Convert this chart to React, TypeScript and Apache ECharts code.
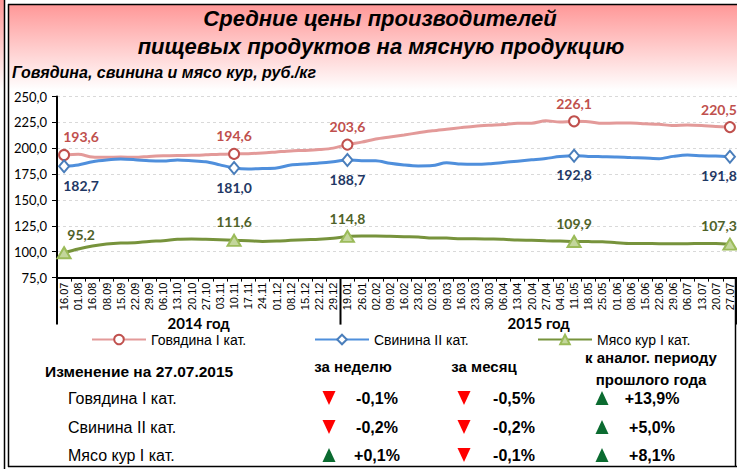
import React, { useEffect, useRef } from "react";
import * as echarts from "echarts";

const categories = [
  "16.07", "01.08", "16.08", "08.09", "15.09", "22.09", "29.09", "06.10", "13.10", "20.10",
  "27.10", "03.11", "10.11", "17.11", "24.11", "01.12", "08.12", "15.12", "22.12", "29.12",
  "19.01", "26.01", "02.02", "09.02", "16.02", "23.02", "02.03", "09.03", "16.03", "23.03",
  "30.03", "06.04", "13.04", "20.04", "27.04", "04.05", "11.05", "18.05", "25.05", "01.06",
  "08.06", "15.06", "22.06", "29.06", "06.07", "13.07", "20.07", "27.07",
];

const beef = [
  193.6, 194.2, 191.6, 191.3, 191.5, 191.3, 192.2, 192.8, 193.1, 193.2, 193.7, 194.3,
  194.6, 194.8, 195.5, 196.5, 197.5, 198.0, 198.8, 200.2, 203.6, 206.0, 209.0, 211.0,
  212.9, 215.0, 217.0, 218.5, 220.0, 221.4, 222.3, 223.0, 224.3, 224.3, 226.6, 225.5,
  226.1, 225.8, 224.2, 224.5, 224.5, 223.8, 223.2, 222.0, 222.5, 222.0, 221.0, 220.5,
];
const pork = [
  182.7, 183.9, 187.0, 188.7, 189.6, 189.0, 188.0, 187.7, 188.7, 188.0, 187.0, 184.0,
  181.0, 180.0, 180.5, 181.0, 183.9, 184.8, 185.7, 187.0, 188.7, 188.0, 188.0, 185.5,
  183.9, 183.0, 183.3, 186.0, 184.8, 184.5, 185.0, 186.3, 187.6, 188.9, 190.2, 192.0,
  192.8, 192.2, 191.9, 191.6, 191.0, 190.6, 190.0, 192.2, 193.5, 192.8, 192.5, 191.8,
];
const chicken = [
  99.0, 102.6, 105.5, 107.4, 108.4, 108.7, 110.0, 110.6, 112.0, 112.3, 112.0, 111.6,
  111.0, 110.6, 110.0, 110.3, 111.0, 111.6, 112.0, 113.0, 114.8, 115.2, 115.2, 114.9,
  114.5, 114.2, 113.2, 113.2, 112.6, 112.6, 112.3, 112.0, 111.3, 111.0, 110.6, 110.3,
  109.9, 109.8, 109.6, 108.7, 108.0, 108.0, 107.7, 107.7, 107.7, 108.0, 108.0, 107.3,
];

const markerIdx = [0, 12, 20, 36, 47];
const beefMarkLabels = ["193,6", "194,6", "203,6", "226,1", "220,5"];
const porkMarkLabels = ["182,7", "181,0", "188,7", "192,8", "191,8"];
const chickenMarkLabels = ["95,2", "111,6", "114,8", "109,9", "107,3"];

const yearGroups = [
  { label: "2014 год", from: 0, to: 19 },
  { label: "2015 год", from: 20, to: 47 },
];

const seriesNames = ["Говядина I кат.", "Свинина II кат.", "Мясо кур I кат."];
const tableTitle = "Изменение на 27.07.2015";
const colHeaders = ["за неделю", "за месяц", "к аналог. периоду", "прошлого года"];
const weekChange = [-0.1, -0.2, 0.1];
const monthChange = [-0.5, -0.2, -0.1];
const yearChange = [13.9, 5.0, 8.1];

const AR = "'Liberation Sans', Arial, sans-serif";
const CAL = "Lato, 'Liberation Sans', sans-serif";

function fmtPct(v: number) {
  return (v > 0 ? "+" : "") + v.toFixed(1).replace(".", ",") + "%";
}

function buildData(vals: number[], labels: string[]) {
  return vals.map((v, i) => {
    const k = markerIdx.indexOf(i);
    if (k < 0) return { value: v, symbol: "none" };
    return {
      value: v,
      label: {
        show: true,
        formatter: labels[k],
        offset: i === 0 ? [17, 0] : i === vals.length - 1 ? [-11, 0] : [0, 0],
      },
    };
  });
}

export default function App() {
  const ref = useRef<HTMLDivElement>(null);
  useEffect(() => {
    const chart = echarts.init(ref.current!, null, { renderer: "svg" });
    const labelBase = { show: false, fontSize: 14, fontWeight: "bold", fontFamily: CAL, distance: 5 };
    chart.setOption({
      animation: false,
      backgroundColor: "#ffffff",
      grid: { left: 57, top: 96.6, width: 681, height: 181 },
      legend: {
        left: 86,
        top: 327,
        itemWidth: 54,
        itemHeight: 12,
        itemGap: 62,
        selectedMode: false,
        textStyle: { fontSize: 14, fontFamily: AR, color: "#000", width: 101, lineHeight: 15 },
        data: seriesNames,
      },
      xAxis: {
        type: "category",
        data: categories,
        boundaryGap: true,
        axisLine: { show: true, lineStyle: { color: "#000", width: 2 } },
        axisTick: { show: true, interval: 0, length: 4, lineStyle: { color: "#000" } },
        axisLabel: { interval: 0, rotate: 90, fontSize: 11, fontFamily: AR, color: "#000", margin: 5 },
      },
      yAxis: {
        type: "value",
        min: 75,
        max: 250,
        interval: 25,
        axisLine: { show: true, lineStyle: { color: "#000", width: 2 } },
        axisTick: { show: true, length: 5, lineStyle: { color: "#000" } },
        axisLabel: {
          fontSize: 13,
          fontFamily: CAL,
          color: "#000",
          margin: 10,
          formatter: (v: number) => v.toFixed(1).replace(".", ","),
        },
        splitLine: { show: true, lineStyle: { color: "#D9D9D9", type: [3, 3] } },
      },
      series: [
        {
          name: seriesNames[0],
          type: "line",
          data: buildData(beef, beefMarkLabels),
          smooth: 0.3,
          symbol: "circle",
          symbolSize: 10,
          lineStyle: { color: "#E39A99", width: 3 },
          itemStyle: { color: "#ffffff", borderColor: "#C0504D", borderWidth: 2 },
          label: { ...labelBase, position: "top", color: "#C0504D" },
          emphasis: { disabled: true },
          z: 3,
        },
        {
          name: seriesNames[1],
          type: "line",
          data: buildData(pork, porkMarkLabels),
          smooth: 0.3,
          symbol: "diamond",
          symbolSize: [10, 12],
          lineStyle: { color: "#4F8FDC", width: 3 },
          itemStyle: { color: "#ffffff", borderColor: "#4A7EBB", borderWidth: 2 },
          label: { ...labelBase, position: "bottom", color: "#1F3864" },
          emphasis: { disabled: true },
          z: 3,
        },
        {
          name: seriesNames[2],
          type: "line",
          data: buildData(chicken, chickenMarkLabels),
          smooth: 0.3,
          symbol: "triangle",
          symbolSize: [13, 11],
          lineStyle: { color: "#77933C", width: 3 },
          itemStyle: { color: "#C3D69B", borderColor: "#9BBB59", borderWidth: 2 },
          label: { ...labelBase, position: "top", color: "#4F6228" },
          emphasis: { disabled: true },
          z: 3,
        },
      ],
    });

    const px = (i: number) => chart.convertToPixel({ xAxisIndex: 0 }, i) as number;
    const band = px(1) - px(0);
    const axisY = chart.convertToPixel({ yAxisIndex: 0 }, 75) as number;

    const g: any[] = [];
    g.push({
      type: "rect",
      z: -10,
      silent: true,
      shape: { x: 0, y: 0, width: 737, height: 100 },
      style: {
        fill: {
          type: "linear", x: 0, y: 0, x2: 0, y2: 1,
          colorStops: [
            { offset: 0.04, color: "#FF9797" },
            { offset: 0.9, color: "#FFFFFF" },
          ],
        },
      },
    });
    g.push({ type: "rect", z: -9, silent: true, shape: { x: 5, y: 0, width: 3, height: 469 }, style: { fill: "#fff" } });
    g.push({ type: "rect", z: -9, silent: true, shape: { x: 0, y: 0, width: 737, height: 4 }, style: { fill: "#fff" } });
    g.push({ type: "rect", z: -9, silent: true, shape: { x: 0, y: 0, width: 4, height: 100 }, style: {
      fill: { type: "linear", x: 0, y: 0, x2: 0, y2: 1, colorStops: [{ offset: 0, color: "#FF9797" }, { offset: 0.9, color: "#FFFFFF" }] },
    } });
    const line = (x1: number, y1: number, x2: number, y2: number, w = 1.5) => ({
      type: "line", silent: true, z: 10,
      shape: { x1, y1, x2, y2 },
      style: { stroke: "#000", lineWidth: w },
    });
    g.push(line(4.5, 0, 4.5, 469));
    g.push(line(8.5, 4, 8.5, 467));
    g.push(line(8, 4.5, 737, 4.5));
    g.push(line(8, 466.5, 737, 466.5));
    g.push(line(735.5, axisY, 735.5, 467));

    const titleFont = { fontFamily: AR, fontWeight: "bold", fontStyle: "italic", fill: "#000" };
    g.push({ type: "text", z: 5, style: { ...titleFont, text: "Средние цены производителей", x: 380, y: 18, fontSize: 22, align: "center", verticalAlign: "middle" } });
    g.push({ type: "text", z: 5, style: { ...titleFont, text: "пищевых продуктов на мясную продукцию", x: 381, y: 46, fontSize: 22, align: "center", verticalAlign: "middle" } });
    g.push({ type: "text", z: 5, style: { ...titleFont, text: "Говядина, свинина и мясо кур, руб./кг", x: 12, y: 72, fontSize: 16, align: "left", verticalAlign: "middle" } });

    const seps = new Set<number>();
    yearGroups.forEach((yg) => {
      const x0 = px(yg.from) - band / 2;
      const x1 = px(yg.to) + band / 2;
      seps.add(Math.round(x0 * 2) / 2);
      seps.add(Math.round(x1 * 2) / 2);
      g.push({
        type: "text", z: 5,
        style: { text: yg.label, x: (x0 + x1) / 2, y: axisY + 45, align: "center", verticalAlign: "middle", fontFamily: CAL, fontWeight: "bold", fontSize: 15, fill: "#000" },
      });
    });
    seps.forEach((x) => {
      const xx = Math.min(x, 736);
      g.push(line(xx, axisY, xx, axisY + 47, 2));
    });

    const hdr = { fontFamily: AR, fontWeight: "bold", fontSize: 15, fill: "#000", align: "center", verticalAlign: "middle" };
    g.push({ type: "text", z: 5, style: { text: tableTitle, x: 45, y: 371, verticalAlign: "middle", fontFamily: AR, fontWeight: "bold", fontSize: 15.5, fill: "#000" } });
    const colCenters = [353, 484, 651];
    g.push({ type: "text", z: 5, style: { ...hdr, text: colHeaders[0], x: colCenters[0], y: 366 } });
    g.push({ type: "text", z: 5, style: { ...hdr, text: colHeaders[1], x: colCenters[1], y: 366 } });
    g.push({ type: "text", z: 5, style: { ...hdr, text: colHeaders[2], x: colCenters[2], y: 357 } });
    g.push({ type: "text", z: 5, style: { ...hdr, text: colHeaders[3], x: colCenters[2], y: 379 } });
    const rowY = [398, 427, 455];
    const triX = [329, 464, 602];
    const valX = [377, 514, 652];
    const cols = [weekChange, monthChange, yearChange];
    seriesNames.forEach((name, r) => {
      g.push({ type: "text", z: 5, style: { text: name, x: 68, y: rowY[r], verticalAlign: "middle", fontFamily: AR, fontSize: 16, fill: "#000" } });
      cols.forEach((col, c) => {
        const v = col[r];
        const cx = triX[c];
        const cy = rowY[r];
        const pts = v < 0
          ? [[cx - 6.5, cy - 7], [cx + 6.5, cy - 7], [cx, cy + 7]]
          : [[cx - 6.5, cy + 7], [cx + 6.5, cy + 7], [cx, cy - 7]];
        g.push({ type: "polygon", z: 5, shape: { points: pts }, style: { fill: v < 0 ? "#FF0000" : "#0B6B30" } });
        g.push({ type: "text", z: 5, style: { text: fmtPct(v), x: valX[c], y: cy, align: "center", verticalAlign: "middle", fontFamily: AR, fontWeight: "bold", fontSize: 16, fill: "#000" } });
      });
    });

    chart.setOption({ graphic: { elements: g } });
    return () => chart.dispose();
  }, []);
  return <div ref={ref} style={{ position: "absolute", left: 0, top: 0, width: 737, height: 469 }} />;
}
